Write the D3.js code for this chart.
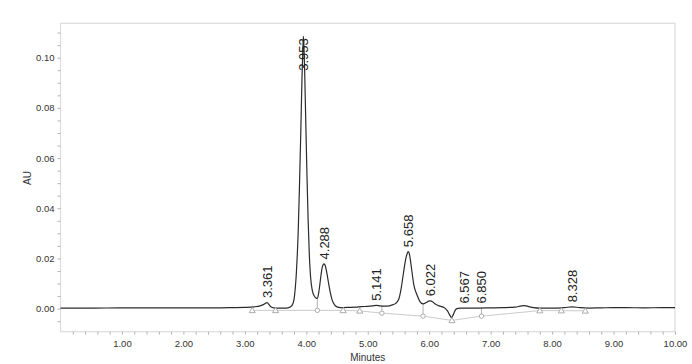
<!DOCTYPE html>
<html>
<head>
<meta charset="utf-8">
<script src="https://cdn.jsdelivr.net/npm/d3@7"></script>
<style>
  body { margin: 0; background: #fff; }
  text { font-family: "Liberation Sans", Arial, sans-serif; }
</style>
</head>
<body>
<div id="container"></div>
<script>
/** CONSTANTS AND GLOBALS */
const width = 692,
  height = 364,
  margin = { top: 23.3, bottom: 32.3, left: 60.5, right: 17 };

/** DATA */
// chromatogram trace: minutes / AU
const traceTime = [
  0.0, 0.5, 1.0, 1.5, 2.0, 2.5, 2.8, 3.0, 3.15, 3.25, 3.31, 3.361, 3.40, 3.43, 3.47, 3.55, 3.65,
  3.70, 3.74, 3.78, 3.81, 3.84, 3.87, 3.89, 3.91, 3.93, 3.945, 3.953, 3.962, 3.975, 3.99, 4.01,
  4.03, 4.05, 4.07, 4.10, 4.13, 4.16, 4.18, 4.20, 4.22, 4.24, 4.26, 4.288, 4.31, 4.33, 4.36, 4.39,
  4.42, 4.46, 4.50, 4.55, 4.60, 4.70, 4.80, 4.90, 5.00, 5.08, 5.141, 5.20, 5.28, 5.35, 5.40, 5.45,
  5.50, 5.54, 5.58, 5.62, 5.64, 5.658, 5.675, 5.69, 5.715, 5.75, 5.80, 5.85, 5.90, 5.95, 5.99,
  6.022, 6.06, 6.10, 6.15, 6.20, 6.25, 6.30, 6.34, 6.365, 6.39, 6.42, 6.45, 6.50, 6.60, 6.80,
  7.00, 7.20, 7.40, 7.50, 7.55, 7.62, 7.70, 7.80, 8.00, 8.20, 8.328, 8.45, 8.60, 8.80, 9.00, 9.20,
  9.50, 9.80, 10.0
];
const traceAU = [
  0.0002, 0.0002, 0.0003, 0.0003, 0.0003, 0.0003, 0.0004, 0.0005, 0.0007, 0.0011, 0.0017, 0.0024, 0.0014, 0.0006, 0.0003, 0.0002, 0.0002,
  0.0003, 0.0006, 0.0018, 0.0055, 0.0150, 0.0320, 0.0500, 0.0700, 0.0920, 0.1040, 0.1085, 0.1045, 0.0930, 0.0760, 0.0540,
  0.0350, 0.0210, 0.0125, 0.0070, 0.0050, 0.0042, 0.0041, 0.0060, 0.0095, 0.0135, 0.0165, 0.0178, 0.0170, 0.0148, 0.0105, 0.0065,
  0.0035, 0.0015, 0.0007, 0.0004, 0.0004, 0.0005, 0.0006, 0.0008, 0.0009, 0.0011, 0.0013, 0.0011, 0.0010, 0.0011, 0.0015, 0.0020,
  0.0035, 0.0075, 0.0140, 0.0200, 0.0218, 0.0227, 0.0220, 0.0200, 0.0155, 0.0095, 0.0055, 0.0028, 0.0019, 0.0024, 0.0030,
  0.0031, 0.0026, 0.0018, 0.0012, 0.0008, 0.0003, -0.0010, -0.0028, -0.0036, -0.0025, -0.0008, 0.0000, 0.0002, 0.0002, 0.0002,
  0.0003, 0.0004, 0.0006, 0.0011, 0.0012, 0.0008, 0.0004, 0.0002, 0.0002, 0.0004, 0.0007, 0.0004, 0.0002, 0.0003, 0.0004, 0.0004,
  0.0003, 0.0004, 0.0004
];

// integration baseline points and marker type
const baseTime = [3.12, 3.50, 4.18, 4.60, 4.87, 5.23, 5.90, 6.37, 6.85, 7.80, 8.15, 8.54];
const baseAU = [-0.0007, -0.0007, -0.0007, -0.0007, -0.0009, -0.0018, -0.0030, -0.0047, -0.0030, -0.0008, -0.0008, -0.0009];
const baseMark = ["tri", "tri", "drop", "tri", "tri", "drop", "drop", "tri", "drop", "tri", "tri", "tri"];

// peak retention time labels
const peakTimes = [3.361, 3.953, 4.288, 5.141, 5.658, 6.022, 6.567, 6.850, 8.328];

// axis ticks
const xMinorTicks = d3.range(1, 51).map(i => i / 5);
const xLabelTicks = [1, 2, 3, 4, 5, 6, 7, 8, 9, 10];
const yMinorTicks = d3.range(-1, 23).map(i => i * 0.005);
const yLabelTicks = [0, 0.02, 0.04, 0.06, 0.08, 0.10];

const trace = traceTime.map((t, i) => ({ t, v: traceAU[i] }));
const base = baseTime.map((t, i) => ({ t, v: baseAU[i], m: baseMark[i] }));

/** INIT */
const svg = d3.select("#container")
  .append("svg")
  .attr("width", width)
  .attr("height", height);

const x = d3.scaleLinear()
  .domain([0, 10])
  .range([margin.left, width - margin.right]);

const y = d3.scaleLinear()
  .domain([-0.0092, 0.1137])
  .range([height - margin.bottom, margin.top]);

// value of trace at time t (for labels / drop lines)
const bis = d3.bisector(d => d.t).left;
function traceAt(t) {
  const i = Math.max(1, Math.min(trace.length - 1, bis(trace, t)));
  const a = trace[i - 1], b = trace[i];
  return a.v + (b.v - a.v) * (t - a.t) / (b.t - a.t);
}

// frame
svg.append("rect")
  .attr("x", margin.left)
  .attr("y", margin.top)
  .attr("width", width - margin.right - margin.left)
  .attr("height", height - margin.bottom - margin.top)
  .attr("fill", "none")
  .attr("stroke", "#dcdcdc")
  .attr("stroke-width", 1.2);

// axes
const xAxis = svg.append("g")
  .attr("transform", `translate(0, ${height - margin.bottom})`)
  .call(d3.axisBottom(x)
    .tickValues(xMinorTicks)
    .tickSize(3)
    .tickPadding(6)
    .tickFormat(d => xLabelTicks.some(v => Math.abs(v - d) < 1e-6) ? d3.format(".2f")(d) : ""));

const yAxis = svg.append("g")
  .attr("transform", `translate(${margin.left}, 0)`)
  .call(d3.axisLeft(y)
    .tickValues(yMinorTicks)
    .tickSize(3)
    .tickPadding(3)
    .tickFormat(d => yLabelTicks.some(v => Math.abs(v - d) < 1e-6) ? d3.format(".2f")(d) : ""));

[xAxis, yAxis].forEach(g => {
  g.select(".domain").remove();
  g.selectAll(".tick line").attr("stroke", "#b5b5b5");
  g.selectAll(".tick text")
    .attr("fill", "#333")
    .style("font-size", "9.5px")
    .style("font-family", "'Liberation Sans', Arial, sans-serif");
});

svg.append("text")
  .attr("x", (margin.left + width - margin.right) / 2)
  .attr("y", 361)
  .attr("text-anchor", "middle")
  .attr("fill", "#333")
  .style("font-size", "10px")
  .text("Minutes");

svg.append("text")
  .attr("transform", "translate(31, 178) rotate(-90)")
  .attr("text-anchor", "middle")
  .attr("fill", "#333")
  .style("font-size", "10px")
  .text("AU");

// integration baseline
svg.append("path")
  .datum(base)
  .attr("fill", "none")
  .attr("stroke", "#c4c4c4")
  .attr("stroke-width", 0.9)
  .attr("d", d3.line().x(d => x(d.t)).y(d => y(d.v)));

// drop lines
svg.selectAll(".drop")
  .data(base.filter(d => d.m === "drop"))
  .join("line")
  .attr("class", "drop")
  .attr("x1", d => x(d.t))
  .attr("x2", d => x(d.t))
  .attr("y1", d => y(d.v))
  .attr("y2", d => y(traceAt(d.t)))
  .attr("stroke", "#aaa")
  .attr("stroke-width", 0.9);

// trace
svg.append("path")
  .datum(trace)
  .attr("fill", "none")
  .attr("stroke", "#2b2b2b")
  .attr("stroke-width", 1.2)
  .attr("d", d3.line().x(d => x(d.t)).y(d => y(d.v)).curve(d3.curveMonotoneX));

// baseline markers
const sym = d3.symbol().type(d3.symbolTriangle).size(16);
svg.selectAll(".tri")
  .data(base.filter(d => d.m === "tri"))
  .join("path")
  .attr("class", "tri")
  .attr("transform", d => `translate(${x(d.t)}, ${y(d.v) + 0.5})`)
  .attr("d", sym)
  .attr("fill", "#fff")
  .attr("stroke", "#999")
  .attr("stroke-width", 0.8);

svg.selectAll(".circ")
  .data(base.filter(d => d.m === "drop"))
  .join("circle")
  .attr("class", "circ")
  .attr("cx", d => x(d.t))
  .attr("cy", d => y(d.v))
  .attr("r", 2.2)
  .attr("fill", "#fff")
  .attr("stroke", "#999")
  .attr("stroke-width", 0.8);

// peak labels
const labels = svg.selectAll(".plabel")
  .data(peakTimes)
  .join("text")
  .attr("class", "plabel")
  .attr("fill", "#222")
  .style("font-size", "13px")
  .attr("dy", "0.35em")
  .text(d => d3.format(".3f")(d));

labels.each(function (d) {
  const len = this.getComputedTextLength();
  let bottom = y(traceAt(d)) - 4.5;
  // labels that would run past the top of the frame are pushed down onto the peak
  bottom = Math.max(bottom, margin.top + 15 + len);
  d3.select(this).attr("transform", `translate(${x(d)}, ${bottom}) rotate(-90)`);
});
</script>
</body>
</html>
